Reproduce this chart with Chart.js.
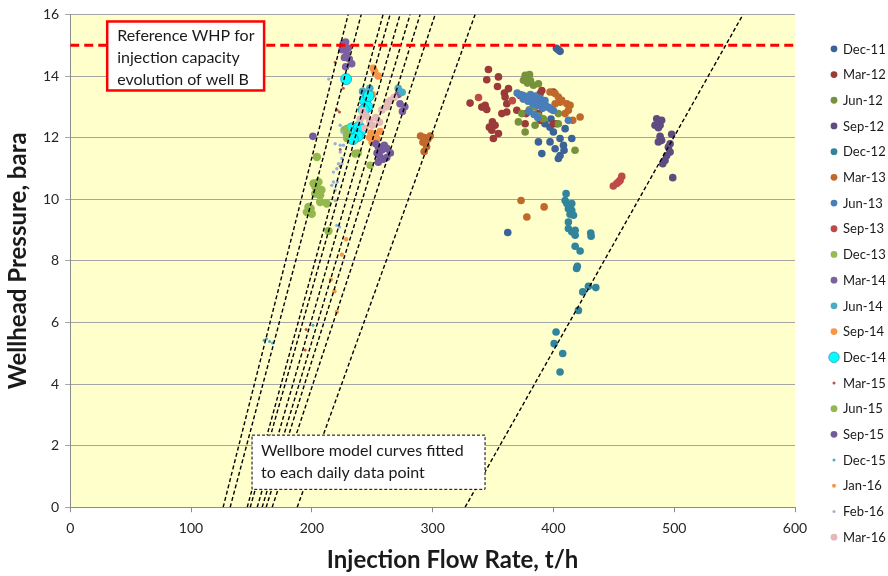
<!DOCTYPE html>
<html>
<head>
<meta charset="utf-8">
<script src="https://cdn.jsdelivr.net/npm/chart.js@4/dist/chart.umd.min.js"></script>
<style>
    html, body { margin: 0; padding: 0; background: #ffffff; }
</style>
</head>
<body>
<canvas id="chart" width="888" height="576"></canvas>
<script>
// quarterly WHP vs flow rate samples, [flow t/h, pressure bara]
const dec11 = [[387.6, 11.86], [397.2, 11.86], [401.4, 11.64], [408.3, 11.75], [390.4, 11.48], [405.5, 11.97], [415.2, 11.97],
    [409.7, 12.29], [400, 12.18], [397.2, 12.34], [404.1, 11.32], [405.5, 11.42], [408.8, 11.59], [362.2, 8.92],
    [402.5, 14.9], [404, 14.85], [405.5, 14.8], [398, 12.6], [393, 12.45]];
const mar12 = [[346.2, 14.21], [354.5, 13.97], [344.8, 13.88], [353.7, 13.66], [362.8, 13.59], [359.4, 13.45], [361.4, 13.1],
    [360, 13.32], [331, 13.12], [340.7, 12.99], [343.5, 13.05], [344.8, 12.91], [369.7, 12.89], [361.4, 12.83],
    [357.3, 12.78], [349.5, 12.51], [351.7, 12.4], [347, 12.34], [349, 12.24], [354.5, 12.13], [350.3, 11.97],
    [372.4, 13.37], [389, 13.43], [390.4, 13.53], [400, 13.48], [377.4, 12.78], [376.6, 12.45], [389, 12.56],
    [400, 12.45], [402.8, 12.45], [387.6, 12.78]];
const jun12 = [[376.6, 14.02], [380.2, 14.05], [375.2, 13.86], [378.5, 13.77], [383.5, 13.7], [387.6, 13.75], [377, 13.95],
    [381, 13.85], [373.8, 12.78], [371, 12.51], [376.6, 12.18], [384.8, 12.4], [384.8, 12.99], [391.7, 12.61],
    [404.1, 12.78], [404.1, 12.45], [417.9, 11.59], [380, 12.9], [388, 12.7]];
const sep12 = [[485.5, 12.61], [489.6, 12.56], [484.1, 12.4], [488.3, 12.4], [486.9, 12.32], [497.9, 12.11], [488.3, 12.04],
    [489.6, 11.91], [486.9, 11.86], [496.6, 11.8], [495.2, 11.69], [496.6, 11.53], [493.8, 11.42], [492.4, 11.26],
    [490.5, 11.15], [498.8, 10.7]];
const dec12 = [[410.5, 10.18], [409.7, 9.96], [411.1, 9.86], [415.2, 9.86], [412.4, 9.69], [415.2, 9.64], [413.8, 9.51],
    [416.6, 9.48], [412.4, 9.26], [412.4, 9.05], [415.2, 8.94], [418, 8.99], [418, 8.83], [418, 8.47], [422.1, 8.32],
    [419.8, 7.82], [419.2, 7.75], [430.9, 8.9], [431.2, 8.8], [429, 7.17], [424.3, 6.99], [435.1, 7.13], [420.7, 6.39],
    [402.2, 5.69], [400.6, 5.31], [407.7, 4.99], [405.5, 4.39]];
const mar13 = [[397.2, 13.48], [401.4, 13.43], [404.1, 13.32], [406.9, 13.21], [411.1, 13.1], [413.8, 13.05], [412.4, 12.89],
    [409.7, 12.78], [416, 12.56], [422.1, 12.67], [401.4, 13.1], [405.5, 13.15], [373.2, 9.96], [378, 9.42],
    [392.3, 9.75], [290, 12.05], [293, 12.0], [296, 11.95], [292, 11.85], [295, 11.7], [293, 11.55], [298, 12.05]];
const jun13 = [[370, 13.45], [372, 13.4], [374, 13.38], [376, 13.35], [378, 13.3], [380, 13.32], [382, 13.25], [384, 13.22],
    [386, 13.2], [388, 13.15], [390, 13.1], [392, 13.05], [394, 13.02], [396, 12.98], [398, 12.92], [400, 12.88],
    [375, 13.25], [379, 13.18], [383, 13.1], [387, 13.05], [391, 12.95], [381, 13.4], [385, 13.35], [389, 13.28],
    [393, 13.2], [380, 12.85], [384, 12.75], [387, 12.65], [412.4, 12.56]];
const sep13 = [[456.6, 10.74], [455.2, 10.61], [452.4, 10.51], [449.6, 10.43], [453.8, 10.56], [366, 13.2], [338, 13.3]];
const dec13 = [[229, 12.29], [229, 11.97], [234.5, 12.02], [238.4, 11.5], [248.3, 11.1]];
const mar14 = [[226, 15.05], [228, 15.1], [230, 14.9], [229, 14.7], [227, 14.6], [231, 14.55], [233, 14.4], [228, 14.3],
    [225, 14.85], [271.5, 13.4], [273, 13.1], [275, 12.85], [277, 13.0]];
const jun14 = [[271.5, 13.6], [274.8, 13.47], [244, 13.3], [246, 13.1], [242, 13.5], [248, 13.6]];
const sep14 = [[250.8, 14.25], [255, 14.0], [252, 14.15], [250, 13.4], [248, 12.0], [250, 11.85], [252.5, 12.1], [254, 11.95],
    [256.6, 12.2], [249, 12.15]];
const dec14 = [[228.4, 13.9], [244, 13.2], [246, 13.0], [243, 12.9], [231, 12.1], [233, 12.3], [235, 12.0], [237, 12.2],
    [239, 12.35], [241, 12.25], [238, 12.05], [234, 11.95], [247, 13.35]];
const mar15 = [[222.9, 12.83], [223.5, 11.61], [223.5, 11.07], [195.3, 5.77], [194.5, 5.1], [219.3, 14.45], [226, 13.6], [221, 12.9]];
const jun15 = [[201.4, 10.51], [205.5, 10.56], [204.2, 10.34], [206.9, 10.13], [202.8, 10.18], [212.4, 9.86], [206.9, 9.91],
    [197.2, 9.75], [195.9, 9.58], [200, 9.53], [213.8, 8.97], [204.2, 11.37], [203, 10.4], [208, 10.3], [199, 9.7],
    [229, 12.1], [227, 12.25], [235.9, 11.48]];
const sep15 = [[200.9, 12.04], [253, 11.8], [255, 11.7], [258, 11.6], [262, 11.65], [256, 11.4], [259, 11.3], [255, 11.2],
    [262, 11.35], [265, 11.5], [254, 11.5], [260, 11.75]];
const dec15 = [[160.5, 5.42], [162.5, 5.47], [165, 5.38], [167.5, 5.33], [200.9, 5.91]];
const jan16 = [[228.4, 8.7], [224.9, 8.2], [215.8, 7.39], [218.7, 7.01], [220.7, 6.34]];
const feb16 = [[223.5, 12.4], [224.9, 12.18], [219.3, 11.8], [223.5, 11.75], [226.2, 11.75], [223.5, 11.53], [224.9, 11.32],
    [224.9, 11.15], [222.1, 11.15], [217.9, 10.88], [220.7, 10.99], [217.9, 10.56], [221.2, 10.56], [216.5, 10.45],
    [219.3, 10.29], [219.3, 9.96], [219.9, 9.96], [220.7, 9.15], [222.9, 9.1], [214, 13.9]];
const mar16 = [[242, 12.85], [245, 12.7], [248, 12.55], [250, 12.4], [253, 12.65], [256, 12.5], [244, 12.3], [258, 12.9],
    [262, 13.0], [265, 13.2], [268, 13.3], [263, 13.15], [240, 12.6]];

const seriesNames = ["Dec-11", "Mar-12", "Jun-12", "Sep-12", "Dec-12", "Mar-13", "Jun-13", "Sep-13", "Dec-13", "Mar-14",
    "Jun-14", "Sep-14", "Dec-14", "Mar-15", "Jun-15", "Sep-15", "Dec-15", "Jan-16", "Feb-16", "Mar-16"];
const seriesPoints = [dec11, mar12, jun12, sep12, dec12, mar13, jun13, sep13, dec13, mar14,
    jun14, sep14, dec14, mar15, jun15, sep15, dec15, jan16, feb16, mar16];

// wellbore model curves: flow rate at 0 bara and at 16 bara
const modelFlowAtZero = [126.6, 132.4, 146.5, 149.0, 154.8, 158.9, 162.2, 167.2, 187.9, 326.9];
const modelFlowAtTop = [230.1, 240.9, 259.0, 264.8, 273.1, 281.4, 289.7, 302.1, 335.2, 557.0];
const modelPressures = [0, 16];

const referenceWhp = 15;
const referenceFlows = [0, 600];

const xTitle = "Injection Flow Rate, t/h";
const yTitle = "Wellhead Pressure, bara";
const whpNoteText = ["Reference WHP for", "injection capacity", "evolution of well B"];
const modelNoteText = ["Wellbore model curves fitted", "to each daily data point"];

// styles
const seriesColors = ["#3C6399", "#9B3A38", "#76923C", "#5F4B7F", "#31849B", "#C0692B", "#4A7EBB", "#BE4B48", "#98B954", "#7D60A0",
    "#4BACC6", "#F79646", "#00FFFF", "#C0504D", "#93B84E", "#725A9C", "#4BACC6", "#F79646", "#95B3D7", "#E6B9B8"];
const pointSizes = [3.8, 3.8, 3.8, 3.8, 3.8, 3.8, 3.8, 3.8, 3.8, 3.8, 3.8, 3.8, 5.5, 1.5, 4.2, 3.8, 1.5, 2.2, 1.7, 3.8];
const legendSizes = [3.4, 3.4, 3.4, 3.4, 3.4, 3.4, 3.4, 3.4, 3.4, 3.4, 3.4, 3.4, 5.2, 1.5, 3.4, 3.4, 1.5, 2.0, 1.5, 3.4];
const FONT = "Lato, 'Open Sans', sans-serif";

const whpNoteBox = { x0: 30.6, x1: 160.5, y0: 15.77, y1: 13.53 };
const modelNoteBox = { x0: 150.5, x1: 343.4, y0: 2.34, y1: 0.58 };

const datasets = seriesPoints.map((points, i) => ({
    label: seriesNames[i],
    data: points.map(([x, y]) => ({ x, y })),
    backgroundColor: seriesColors[i],
    borderColor: i === 12 ? "#2A9BC0" : seriesColors[i],
    borderWidth: i === 12 ? 0.8 : 0,
    pointRadius: pointSizes[i],
    pointHoverRadius: pointSizes[i],
    order: 100 - i
}));

modelFlowAtZero.forEach((flow, i) => {
    datasets.push({
        label: "model",
        data: [{ x: flow, y: modelPressures[0] }, { x: modelFlowAtTop[i], y: modelPressures[1] }],
        showLine: true,
        borderColor: "#000000",
        borderWidth: 1.4,
        borderDash: [4, 2.5],
        pointRadius: 0,
        order: 1
    });
});

datasets.push({
    label: "reference",
    data: referenceFlows.map(x => ({ x, y: referenceWhp })),
    showLine: true,
    borderColor: "#FF0000",
    borderWidth: 3,
    borderDash: [9, 5],
    pointRadius: 0,
    order: 0
});

function drawNote(ctx, xs, ys, box, lines, opts) {
    const left = xs.getPixelForValue(box.x0);
    const right = xs.getPixelForValue(box.x1);
    const top = ys.getPixelForValue(box.y0);
    const bottom = ys.getPixelForValue(box.y1);
    ctx.save();
    ctx.fillStyle = "#ffffff";
    ctx.fillRect(left, top, right - left, bottom - top);
    ctx.strokeStyle = opts.border;
    ctx.lineWidth = opts.width;
    ctx.setLineDash(opts.dash);
    ctx.strokeRect(left, top, right - left, bottom - top);
    ctx.setLineDash([]);
    ctx.fillStyle = "#1a1a1a";
    ctx.font = `16px ${FONT}`;
    ctx.textBaseline = "middle";
    lines.forEach((line, i) => {
        ctx.fillText(line, left + opts.indent, top + opts.first + i * 22);
    });
    ctx.restore();
}

const plotDecor = {
    id: "plotDecor",
    beforeDraw(chart) {
        const { ctx, chartArea } = chart;
        ctx.save();
        ctx.fillStyle = "#FFFFCC";
        ctx.fillRect(chartArea.left, chartArea.top, chartArea.right - chartArea.left, chartArea.bottom - chartArea.top);
        ctx.restore();
    },
    afterDraw(chart) {
        const { ctx, scales: { x, y }, chartArea } = chart;
        drawNote(ctx, x, y, whpNoteBox, whpNoteText, { border: "#FF0000", width: 2.5, dash: [], indent: 10, first: 14 });
        drawNote(ctx, x, y, modelNoteBox, modelNoteText, { border: "#000000", width: 1, dash: [3, 2], indent: 9, first: 16 });

        // axis titles (the x title sits a little right of centre, as in the source)
        ctx.save();
        ctx.fillStyle = "#1a1a1a";
        ctx.font = `bold 24px ${FONT}`;
        ctx.textAlign = "center";
        ctx.textBaseline = "middle";
        ctx.fillText(xTitle, (chartArea.left + chartArea.right) / 2 + 20, chart.height - 16);
        ctx.translate(18, (chartArea.top + chartArea.bottom) / 2);
        ctx.rotate(-Math.PI / 2);
        ctx.fillText(yTitle, 0, 0);
        ctx.restore();

        // legend
        const step = 25.7;
        const lx = chartArea.right + 39;
        const y0 = chart.height / 2 + 5 - (seriesNames.length - 1) * step / 2;
        ctx.save();
        ctx.font = `13px ${FONT}`;
        ctx.textBaseline = "middle";
        seriesNames.forEach((name, i) => {
            const ly = y0 + i * step;
            ctx.beginPath();
            ctx.arc(lx, ly, legendSizes[i], 0, Math.PI * 2);
            ctx.fillStyle = seriesColors[i];
            ctx.fill();
            if (i === 12) {
                ctx.strokeStyle = "#2A9BC0";
                ctx.lineWidth = 0.8;
                ctx.stroke();
            }
            ctx.fillStyle = "#1a1a1a";
            ctx.fillText(name, lx + 9, ly + 0.5);
        });
        ctx.restore();
    }
};

new Chart(document.getElementById("chart"), {
    type: "scatter",
    data: { datasets },
    options: {
        responsive: false,
        animation: false,
        events: [],
        layout: { padding: { top: 14, right: 93, bottom: 31, left: 37 } },
        plugins: {
            legend: { display: false },
            tooltip: { enabled: false }
        },
        scales: {
            x: {
                type: "linear",
                min: 0,
                max: 600,
                ticks: { stepSize: 100, color: "#262626", font: { family: FONT, size: 14 }, padding: 8 },
                grid: { drawOnChartArea: false, drawTicks: true, tickLength: 5, color: "#8C8C8C" },
                border: { color: "#8C8C8C" }
            },
            y: {
                min: 0,
                max: 16,
                ticks: { stepSize: 2, color: "#262626", font: { family: FONT, size: 14 }, padding: 6 },
                grid: { color: "#A5A5A5", drawTicks: true, tickLength: 5 },
                border: { color: "#8C8C8C" }
            }
        }
    },
    plugins: [plotDecor]
});
</script>
</body>
</html>
